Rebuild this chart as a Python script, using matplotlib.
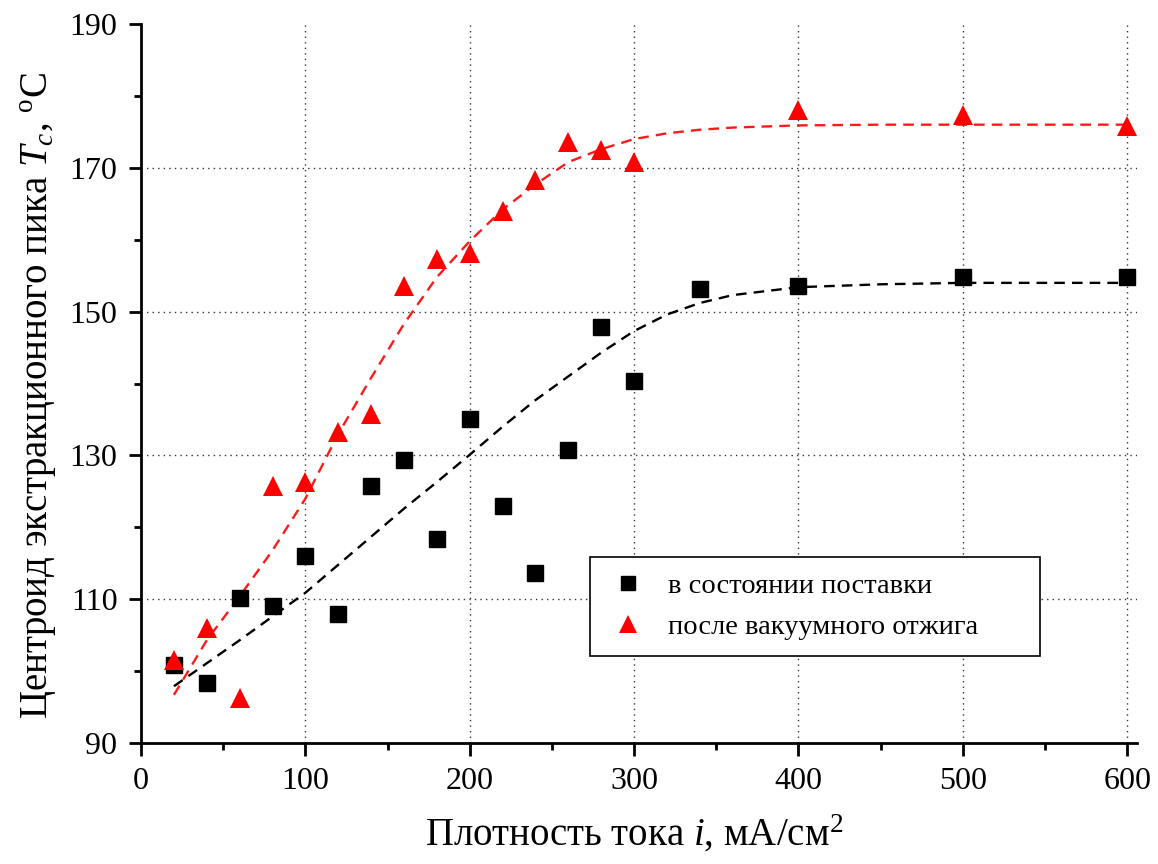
import matplotlib
matplotlib.use("Agg")
import matplotlib.pyplot as plt
from matplotlib.ticker import MultipleLocator, FixedLocator

plt.rcParams['font.family'] = ['Liberation Serif', 'DejaVu Serif']
plt.rcParams['mathtext.fontset'] = 'custom'
plt.rcParams['mathtext.rm'] = 'Liberation Serif'
plt.rcParams['mathtext.it'] = 'Liberation Serif:italic'

# Data: as-delivered (squares)
x_asis = [20, 40, 60, 80, 100, 120, 140, 160, 180, 200, 220, 240, 260, 280, 300, 340, 400, 500, 600]
y_asis = [100.9, 98.4, 110.2, 109.1, 116.0, 108.0, 125.7, 129.4, 118.4, 135.0, 123.0, 113.7,
          130.7, 147.8, 140.4, 153.1, 153.6, 154.8, 154.8]

# Data: after vacuum annealing (triangles)
x_ann = [20, 40, 60, 80, 100, 120, 140, 160, 180, 200, 220, 240, 260, 280, 300, 400, 500, 600]
y_ann = [101.6, 106.0, 96.3, 125.8, 126.3, 133.3, 135.8, 153.5, 157.3, 158.1, 164.0, 168.3,
         173.6, 172.5, 170.8, 178.1, 177.4, 175.8]

# Fit curves
fit_x = [20, 40, 60, 80, 100, 120, 140, 160, 180, 200, 220, 240, 260, 280, 300, 320, 340, 360, 400, 450, 500, 600]
fit_asis = [97.9, 101.1, 104.3, 107.6, 110.9, 114.8, 118.7, 122.6, 126.3, 130.1, 134.0, 137.7,
            141.0, 144.3, 147.3, 149.6, 151.2, 152.3, 153.4, 153.8, 154.0, 154.0]
fit_ann = [96.7, 104.3, 110.4, 116.8, 124.0, 133.0, 140.8, 148.3, 154.8, 159.8, 164.2, 167.7,
           170.8, 172.6, 174.0, 174.8, 175.3, 175.6, 175.9, 176.0, 176.0, 176.0]

y_major = [90, 110, 130, 150, 170, 190]
y_minor = [100, 120, 140, 160, 180]

label_asis = 'в состоянии поставки'
label_ann = 'после вакуумного отжига'
xlabel = r'Плотность тока $i$, мА/см$^2$'
ylabel = r'Центроид экстракционного пика $T_c$, $^{\mathrm{o}}$C'

fig = plt.figure(figsize=(11.58, 8.64), dpi=100)
ax = fig.add_axes([0.1218, 0.1400, 0.8601, 0.8322])

dash = (0, (4.5, 3))
ax.plot(fit_x, fit_asis, color='black', lw=1.7, linestyle=dash, zorder=2)
ax.plot(fit_x, fit_ann, color='#ff1a1a', lw=1.7, linestyle=dash, zorder=2)
ax.plot(x_asis, y_asis, linestyle='none', marker='s', ms=11, color='black',
        label=label_asis, zorder=3)
ax.plot(x_ann, y_ann, linestyle='none', marker='^', ms=15, color='#ff0000',
        markeredgewidth=0, label=label_ann, zorder=3)

ax.set_xlim(0, 606)
ax.set_ylim(90, 190)
ax.xaxis.set_major_locator(MultipleLocator(100))
ax.xaxis.set_minor_locator(MultipleLocator(50))
ax.yaxis.set_major_locator(FixedLocator(y_major))
ax.yaxis.set_minor_locator(FixedLocator(y_minor))

for s in ['top', 'right']:
    ax.spines[s].set_visible(False)
for s in ['left', 'bottom']:
    ax.spines[s].set_linewidth(2.0)

ax.tick_params(which='major', direction='out', length=9, width=2.0, labelsize=23, pad=8)
ax.tick_params(which='minor', direction='out', length=5, width=2.0)

ax.grid(True, which='major', linestyle=(0, (1, 3)), color='#333333', lw=1.0)
ax.set_axisbelow(True)
for t, gl in zip(y_major, ax.get_ygridlines()):
    if t in (90, 190):
        gl.set_visible(False)
for gl in ax.get_xgridlines()[:1]:
    gl.set_visible(False)

ax.set_xlabel(xlabel, fontsize=28)
ax.set_ylabel(ylabel, fontsize=28)
ax.xaxis.set_label_coords(0.495, -0.098)
ax.yaxis.set_label_coords(-0.082, 0.484)

leg = ax.legend(loc='upper left', bbox_to_anchor=(0.4508, 0.1266, 0.4518, 0.1321),
                mode='expand', fontsize=20.5,
                frameon=True, fancybox=False, edgecolor='black', framealpha=1,
                handletextpad=0.6, borderpad=0.55, labelspacing=0.55, markerscale=0.9,
                handlelength=1.6, borderaxespad=0)
leg.get_frame().set_linewidth(1.2)

fig.savefig('out.png', dpi=100)
